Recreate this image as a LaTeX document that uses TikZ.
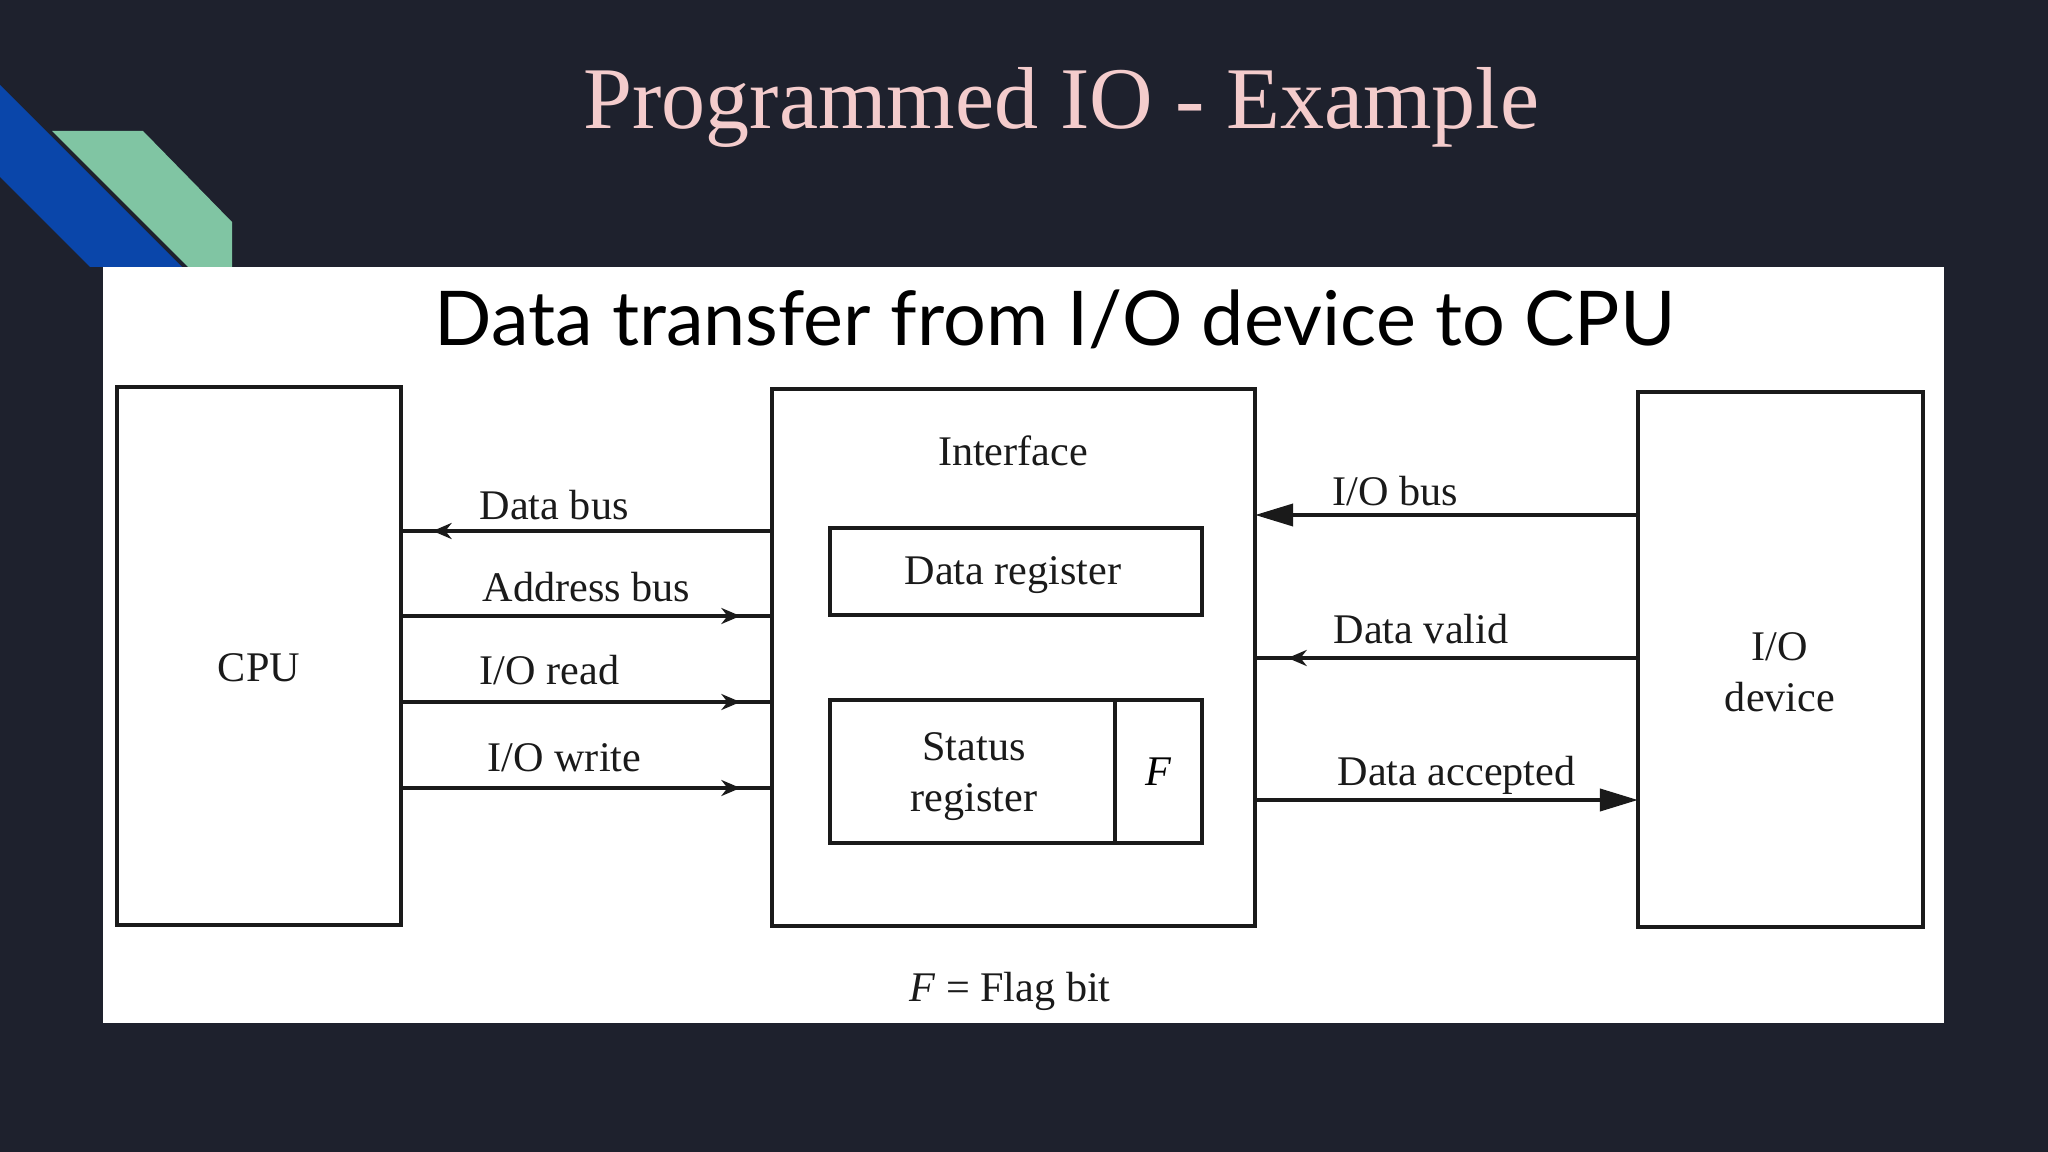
\documentclass[tikz,border=0pt]{standalone}
\usepackage{fontspec}
\setmainfont{Liberation Serif}
\newfontfamily\latofont{Lato}
\usetikzlibrary{arrows.meta,decorations.markings}
\definecolor{bgdark}{HTML}{1E212D}
\definecolor{slideblue}{HTML}{0A46AA}
\definecolor{slidegreen}{HTML}{80C5A3}
\definecolor{titlepink}{HTML}{F4CCCC}
\definecolor{ink}{HTML}{1A1A1A}
\begin{document}
\begin{tikzpicture}[x=0.01cm,y=-0.01cm,
  box/.style={draw=ink,line width=1.2pt,fill=white,inner sep=0pt,outer sep=0pt,
              font=\fontsize{12}{13}\selectfont,align=center},
  lbl/.style={font=\fontsize{12}{13}\selectfont,text=ink,inner sep=0pt,anchor=base west},
  txt/.style={font=\fontsize{12}{14.5}\selectfont,text=ink,inner sep=0pt,align=center},
  bus/.style={draw=ink,line width=1.1pt},
  midarrow/.style={postaction={decorate},decoration={markings,
      mark=at position #1 with {\arrow{Stealth[length=0.19cm,width=0.16cm]}}}},
  bigtip/.style={-{Triangle[length=0.38cm,width=0.22cm]}}
]
\useasboundingbox (0,0) rectangle (2048,1152);
\fill[bgdark] (0,0) rectangle (2048,1152);
% decorative bands
\fill[slideblue] (0,85) -- (182,267) -- (90,267) -- (0,177) -- cycle;
\fill[slidegreen] (52,131) -- (143,131) -- (232,222) -- (232,267) -- (188,267) -- cycle;
% white panel
\fill[white] (103,267) rectangle (1944,1023);
% title
\node[anchor=base,inner sep=0pt,text=titlepink] (title) at (1061.5,129)
  {\resizebox{9.55cm}{0.61cm}{Programmed IO - Example}};
\node[anchor=base,inner sep=0pt,text=black] (sub) at (1055,346)
  {\resizebox{12.4cm}{!}{\latofont Data transfer from I/O device to CPU}};
% boxes
\node[box,minimum width=2.84cm,minimum height=5.38cm] (cpu) at (259,656) {};
\node[txt] (cputxt) at (259,668) {CPU};
\node[box,minimum width=4.83cm,minimum height=5.37cm] (iface) at (1013.5,657.5) {};
\node[txt,anchor=base] (ifacetxt) at (1013,466) {Interface};
\node[box,minimum width=3.72cm,minimum height=0.87cm] (dreg) at (1016,571.5) {};
\node[txt,anchor=base] (dregtxt) at (1013,584) {Data register};
\node[box,minimum width=2.85cm,minimum height=1.43cm] (sreg) at (972.5,771.5) {};
\node[txt] (sregtxt) at (974,777) {Status\\register};
\node[box,minimum width=0.87cm,minimum height=1.43cm] (flag) at (1158.5,771.5) {\textit{F}};
\node[box,minimum width=2.85cm,minimum height=5.35cm] (dev) at (1780.5,659.5) {};
\node[txt] (devtxt) at (1780,672) {I/O\\device};
\node[txt,anchor=base] (note) at (1010,1001) {\textit{F} = Flag bit};
% bus y-levels
\coordinate (ydb) at (0,531);
\coordinate (yab) at (0,616);
\coordinate (yrd) at (0,702);
\coordinate (ywr) at (0,788);
\coordinate (yiob) at (0,515);
\coordinate (ydv) at (0,658);
\coordinate (yda) at (0,800);
% connectors
\draw[bus,midarrow=0.915] (iface.west |- ydb) -- (cpu.east |- ydb);
\draw[bus,midarrow=0.915] (cpu.east |- yab) -- (iface.west |- yab);
\draw[bus,midarrow=0.915] (cpu.east |- yrd) -- (iface.west |- yrd);
\draw[bus,midarrow=0.915] (cpu.east |- ywr) -- (iface.west |- ywr);
\draw[bus,bigtip] (dev.west |- yiob) -- (iface.east |- yiob);
\draw[bus,midarrow=0.915] (dev.west |- ydv) -- (iface.east |- ydv);
\draw[bus,bigtip] (iface.east |- yda) -- (dev.west |- yda);
% labels
\node[lbl] (ldb) at (479,520) {Data bus};
\node[lbl] (lab) at (482,601) {Address bus};
\node[lbl] (lrd) at (479,684) {I/O read};
\node[lbl] (lwr) at (487,771) {I/O write};
\node[lbl] (liob) at (1332,505) {I/O bus};
\node[lbl] (ldv) at (1333,643) {Data valid};
\node[lbl] (lda) at (1337,785) {Data accepted};
\end{tikzpicture}
\end{document}
